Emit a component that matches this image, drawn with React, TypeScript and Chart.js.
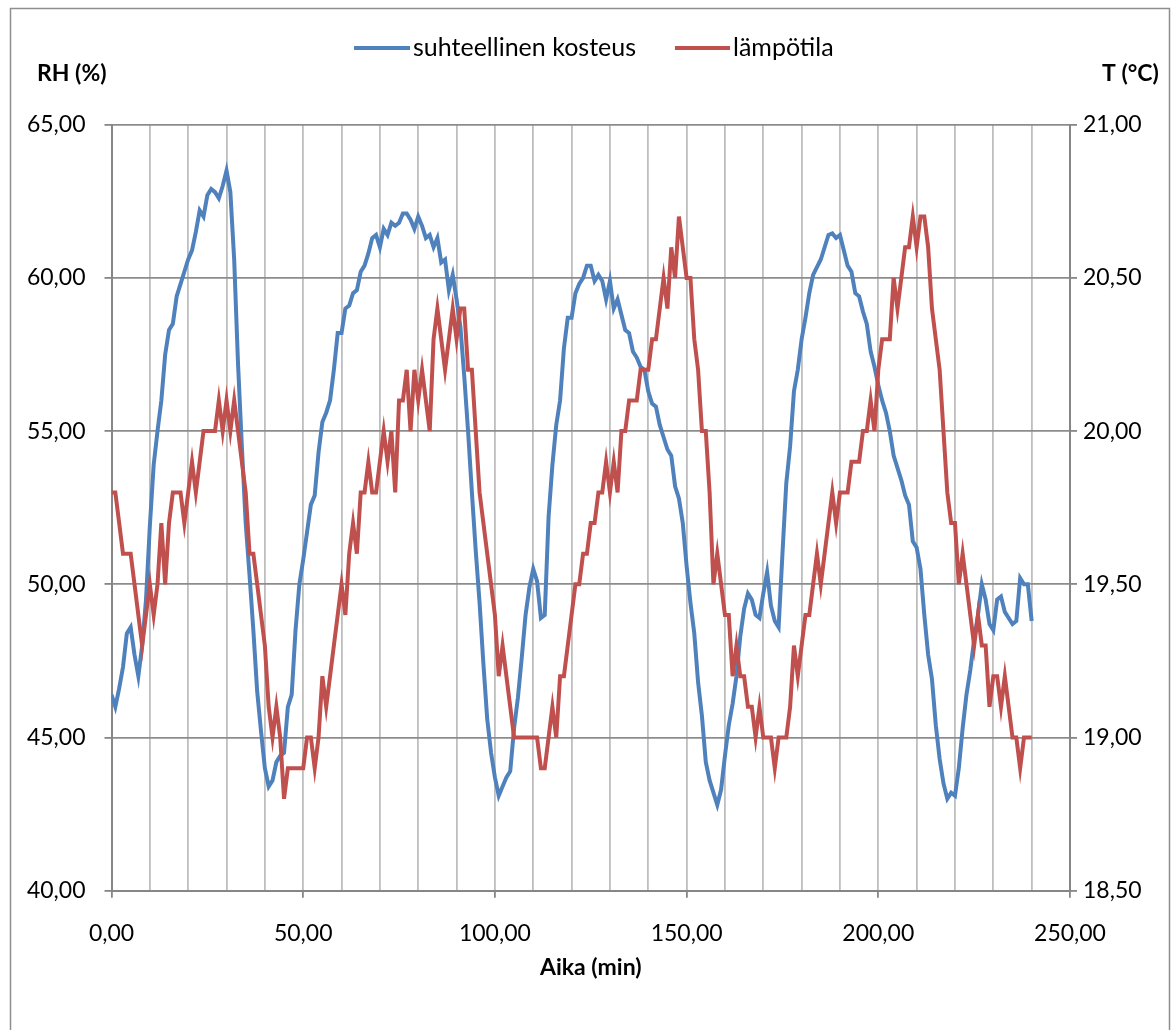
import React, { useEffect, useRef } from "react";
import { Chart, registerables } from "chart.js";

Chart.register(...registerables);

// Time axis: one sample per minute, 0..240 min
const RH_VALUES: number[] = [
  46.4, 46.0, 46.6, 47.3, 48.4, 48.6, 47.7, 47.0, 48.0, 49.5,
  51.9, 53.9, 55.0, 56.0, 57.5, 58.3, 58.5, 59.4, 59.8, 60.2,
  60.6, 60.9, 61.5, 62.2, 62.0, 62.7, 62.9, 62.8, 62.6, 63.0,
  63.5, 62.8, 60.6, 57.2, 54.5, 52.0, 50.3, 48.5, 46.5, 45.2,
  44.0, 43.4, 43.6, 44.2, 44.4, 44.5, 46.0, 46.4, 48.5, 50.0,
  50.8, 51.7, 52.6, 52.9, 54.3, 55.3, 55.6, 56.0, 57.0, 58.2,
  58.2, 59.0, 59.1, 59.5, 59.6, 60.2, 60.4, 60.8, 61.3, 61.4,
  61.0, 61.6, 61.4, 61.8, 61.7, 61.8, 62.1, 62.1, 61.9, 61.6,
  62.0, 61.7, 61.3, 61.4, 61.0, 61.3, 60.5, 60.6, 59.6, 60.1,
  59.3, 58.4, 56.8, 55.0, 53.0, 51.1, 49.4, 47.4, 45.6, 44.5,
  43.7, 43.1, 43.4, 43.7, 43.9, 45.3, 46.3, 47.6, 49.0, 49.9,
  50.5, 50.1, 48.9, 49.0, 52.2, 53.9, 55.2, 56.0, 57.7, 58.7,
  58.7, 59.5, 59.8, 60.0, 60.4, 60.4, 59.9, 60.1, 59.9, 59.3,
  59.9, 59.0, 59.3, 58.8, 58.3, 58.2, 57.6, 57.4, 57.1, 57.0,
  56.3, 55.9, 55.8, 55.2, 54.8, 54.4, 54.2, 53.2, 52.8, 52.0,
  50.6, 49.4, 48.4, 46.8, 45.7, 44.2, 43.6, 43.2, 42.8, 43.3,
  44.4, 45.4, 46.1, 47.0, 48.3, 49.2, 49.7, 49.5, 49.0, 48.9,
  49.7, 50.4, 49.3, 48.8, 48.6, 51.0, 53.3, 54.5, 56.3, 57.0,
  58.0, 58.7, 59.5, 60.1, 60.35, 60.6, 61.0, 61.4, 61.45, 61.3,
  61.4, 60.9, 60.4, 60.2, 59.5, 59.4, 58.9, 58.5, 57.6, 57.1,
  56.5, 56.0, 55.6, 55.0, 54.2, 53.8, 53.4, 52.9, 52.6, 51.4,
  51.2, 50.5, 49.0, 47.7, 46.9, 45.4, 44.3, 43.5, 43.0, 43.2,
  43.1, 44.0, 45.3, 46.4, 47.2, 48.2, 49.0, 50.0, 49.5, 48.7,
  48.5, 49.5, 49.6, 49.1, 48.9, 48.7, 48.8, 50.2, 50.0, 50.0,
  48.8,
];

const TEMP_VALUES: number[] = [
  19.8, 19.8, 19.7, 19.6, 19.6, 19.6, 19.5, 19.4, 19.3, 19.4,
  19.5, 19.4, 19.5, 19.7, 19.5, 19.7, 19.8, 19.8, 19.8, 19.7,
  19.8, 19.9, 19.8, 19.9, 20.0, 20.0, 20.0, 20.0, 20.1, 20.0,
  20.1, 20.0, 20.1, 20.0, 19.9, 19.8, 19.6, 19.6, 19.5, 19.4,
  19.3, 19.1, 19.0, 19.1, 19.0, 18.8, 18.9, 18.9, 18.9, 18.9,
  18.9, 19.0, 19.0, 18.9, 19.0, 19.2, 19.1, 19.2, 19.3, 19.4,
  19.5, 19.4, 19.6, 19.7, 19.6, 19.8, 19.8, 19.9, 19.8, 19.8,
  19.9, 20.0, 19.9, 20.0, 19.8, 20.1, 20.1, 20.2, 20.0, 20.2,
  20.1, 20.2, 20.1, 20.0, 20.3, 20.4, 20.3, 20.2, 20.3, 20.4,
  20.3, 20.4, 20.4, 20.2, 20.2, 20.0, 19.8, 19.7, 19.6, 19.5,
  19.4, 19.2, 19.3, 19.2, 19.1, 19.0, 19.0, 19.0, 19.0, 19.0,
  19.0, 19.0, 18.9, 18.9, 19.0, 19.1, 19.0, 19.2, 19.2, 19.3,
  19.4, 19.5, 19.5, 19.6, 19.6, 19.7, 19.7, 19.8, 19.8, 19.9,
  19.8, 19.9, 19.8, 20.0, 20.0, 20.1, 20.1, 20.1, 20.2, 20.2,
  20.2, 20.3, 20.3, 20.4, 20.5, 20.4, 20.6, 20.5, 20.7, 20.6,
  20.5, 20.5, 20.3, 20.2, 20.0, 20.0, 19.8, 19.5, 19.6, 19.5,
  19.4, 19.4, 19.2, 19.3, 19.2, 19.2, 19.1, 19.1, 19.0, 19.1,
  19.0, 19.0, 19.0, 18.9, 19.0, 19.0, 19.0, 19.1, 19.3, 19.2,
  19.3, 19.4, 19.4, 19.5, 19.6, 19.5, 19.6, 19.7, 19.8, 19.7,
  19.8, 19.8, 19.8, 19.9, 19.9, 19.9, 20.0, 20.0, 20.1, 20.0,
  20.2, 20.3, 20.3, 20.3, 20.5, 20.4, 20.5, 20.6, 20.6, 20.7,
  20.6, 20.7, 20.7, 20.6, 20.4, 20.3, 20.2, 20.0, 19.8, 19.7,
  19.7, 19.5, 19.6, 19.5, 19.4, 19.3, 19.4, 19.3, 19.3, 19.1,
  19.2, 19.2, 19.1, 19.2, 19.1, 19.0, 19.0, 18.9, 19.0, 19.0,
  19.0,
];

const SERIES_NAMES = ["suhteellinen kosteus", "lämpötila"];
const X_TITLE = "Aika (min)";
const Y_LEFT_TITLE = "RH (%)";
const Y_RIGHT_TITLE = "T (°C)";

const X_MIN = 0;
const X_MAX = 250;
const X_LABEL_STEP = 50;
const X_GRID_STEP = 10;
const RH_MIN = 40;
const RH_MAX = 65;
const RH_STEP = 5;
const T_MIN = 18.5;
const T_MAX = 21;
const T_STEP = 0.5;

const BLUE = "#4F81BD";
const RED = "#C0504D";
const FONT = "Lato, 'Liberation Sans', sans-serif";

const fmt = (v: number) => v.toFixed(2).replace(".", ",");

const W = 1174;
const H = 1030;

export default function App() {
  const ref = useRef<HTMLCanvasElement | null>(null);

  useEffect(() => {
    if (!ref.current) return;

    const decorations = {
      id: "decorations",
      afterDraw(chart: any) {
        const ctx = chart.ctx;
        const area = chart.chartArea;
        ctx.save();
        // outer border
        ctx.strokeStyle = "#8E8E8E";
        ctx.lineWidth = 1.5;
        ctx.strokeRect(10.5, 8.5, 1159, 1100);

        // legend
        ctx.textBaseline = "middle";
        ctx.textAlign = "left";
        ctx.font = `25px ${FONT}`;
        ctx.fillStyle = "#000";
        const ly = 48;
        ctx.lineWidth = 4;
        ctx.lineCap = "butt";
        ctx.strokeStyle = BLUE;
        ctx.beginPath();
        ctx.moveTo(354, ly);
        ctx.lineTo(410, ly);
        ctx.stroke();
        ctx.fillText(SERIES_NAMES[0], 413, ly);
        ctx.strokeStyle = RED;
        ctx.beginPath();
        ctx.moveTo(675, ly);
        ctx.lineTo(730, ly);
        ctx.stroke();
        ctx.fillText(SERIES_NAMES[1], 733, ly);

        // axis titles
        ctx.font = `bold 23px ${FONT}`;
        ctx.textAlign = "left";
        ctx.fillText(Y_LEFT_TITLE, 37, 74);
        ctx.fillText(Y_RIGHT_TITLE, 1102, 74);
        ctx.textAlign = "center";
        ctx.fillText(X_TITLE, (area.left + area.right) / 2, 968);
        ctx.restore();
      },
    };

    const chart = new Chart(ref.current, {
      type: "line",
      data: {
        datasets: [
          {
            label: SERIES_NAMES[0],
            data: RH_VALUES.map((v, i) => ({ x: i, y: v })),
            borderColor: BLUE,
            backgroundColor: BLUE,
            borderWidth: 4,
            pointRadius: 0,
            tension: 0,
            yAxisID: "yRH",
            order: 1,
          },
          {
            label: SERIES_NAMES[1],
            data: TEMP_VALUES.map((v, i) => ({ x: i, y: v })),
            borderColor: RED,
            backgroundColor: RED,
            borderWidth: 4,
            pointRadius: 0,
            tension: 0,
            yAxisID: "yT",
            order: 0,
          },
        ],
      },
      options: {
        responsive: false,
        animation: false,
        devicePixelRatio: 1,
        layout: { padding: { top: 124.7, left: 0, right: 0, bottom: 0 } },
        plugins: {
          legend: { display: false },
          tooltip: { enabled: false },
        },
        font: { family: FONT },
        scales: {
          x: {
            type: "linear",
            min: X_MIN,
            max: X_MAX,
            afterFit: (s: any) => {
              s.height = H - 890.7;
            },
            afterBuildTicks: (s: any) => {
              const t = [];
              for (let v = X_MIN; v <= X_MAX; v += X_GRID_STEP) t.push({ value: v });
              s.ticks = t;
            },
            ticks: {
              autoSkip: false,
              maxRotation: 0,
              padding: 22,
              color: "#000",
              font: { family: FONT, size: 23 },
              callback: (v: any) => (Number(v) % X_LABEL_STEP === 0 ? fmt(Number(v)) : ""),
            },
            grid: {
              color: "#BEBEBE",
              lineWidth: 1.8,
              tickLength: 7,
              tickColor: (c: any) =>
                c.tick && c.tick.value % X_LABEL_STEP === 0 ? "#868686" : "rgba(0,0,0,0)",
              tickWidth: 1.8,
            },
            border: { display: true, color: "#868686", width: 2 },
          },
          yRH: {
            type: "linear",
            position: "left",
            min: RH_MIN,
            max: RH_MAX,
            afterFit: (s: any) => {
              s.width = 111.5;
            },
            ticks: {
              stepSize: RH_STEP,
              padding: 19,
              color: "#000",
              font: { family: FONT, size: 23 },
              callback: (v: any) => fmt(Number(v)),
            },
            grid: {
              color: "#8C8C8C",
              lineWidth: 1.8,
              tickLength: 7,
              tickColor: "#868686",
            },
            border: { display: true, color: "#868686", width: 2 },
          },
          yT: {
            type: "linear",
            position: "right",
            min: T_MIN,
            max: T_MAX,
            afterFit: (s: any) => {
              s.width = W - 1070;
            },
            ticks: {
              stepSize: T_STEP,
              padding: 6,
              color: "#000",
              font: { family: FONT, size: 23 },
              callback: (v: any) => fmt(Number(v)),
            },
            grid: {
              drawOnChartArea: false,
              tickLength: 7,
              color: "#868686",
              tickColor: "#868686",
              lineWidth: 1.8,
            },
            border: { display: true, color: "#868686", width: 2 },
          },
        },
      },
      plugins: [decorations],
    } as any);

    return () => chart.destroy();
  }, []);

  return (
    <div style={{ position: "absolute", left: 0, top: 0, width: W, height: H, background: "#fff" }}>
      <canvas ref={ref} width={W} height={H} style={{ display: "block", width: W, height: H }} />
    </div>
  );
}
